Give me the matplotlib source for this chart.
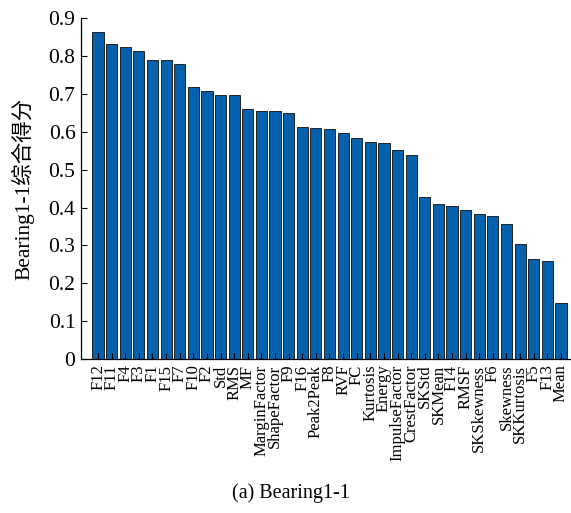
import matplotlib
matplotlib.use("Agg")
import matplotlib.pyplot as plt
import numpy as np

features = ["F12", "F11", "F4", "F3", "F1", "F15", "F7", "F10", "F2", "Std",
            "RMS", "MF", "MarginFactor", "ShapeFactor", "F9", "F16", "Peak2Peak",
            "F8", "RVF", "FC", "Kurtosis", "Energy", "ImpulseFactor", "CrestFactor",
            "SKStd", "SKMean", "F14", "RMSF", "SKSkewness", "F6", "Skewness",
            "SKKurtosis", "F5", "F13", "Mean"]
scores = [0.863, 0.833, 0.825, 0.814, 0.791, 0.791, 0.779, 0.718, 0.708, 0.698,
          0.698, 0.660, 0.656, 0.654, 0.651, 0.614, 0.611, 0.608, 0.597, 0.585,
          0.574, 0.571, 0.552, 0.540, 0.429, 0.409, 0.405, 0.394, 0.383, 0.378,
          0.356, 0.304, 0.265, 0.258, 0.147]
yticks = [0, 0.1, 0.2, 0.3, 0.4, 0.5, 0.6, 0.7, 0.8, 0.9]

plt.rcParams["font.family"] = ["Liberation Serif", "Noto Sans CJK SC"]

fig = plt.figure(figsize=(5.71, 5.13), dpi=100)
ax = fig.add_axes([0.1419, 0.3002, 0.8581, 0.6641])

x = np.arange(len(features))
ax.bar(x, scores, width=0.82, color="#0461AE", edgecolor="#222222", linewidth=0.7)

ax.set_xlim(-1.25, len(features) - 1 + 0.74)
ax.set_ylim(0, 0.9)
ax.set_yticks(yticks)
ax.set_yticklabels([f"{v:g}" for v in yticks], fontsize=15.5)
ax.set_xticks(x)
ax.set_xticklabels(features, rotation=90, fontsize=12)
ax.tick_params(axis="both", direction="in", length=4, width=0.8)
ax.tick_params(axis="x", pad=4)
ax.tick_params(axis="y", pad=4)

for side in ("top", "right"):
    ax.spines[side].set_visible(False)
for side in ("left", "bottom"):
    ax.spines[side].set_linewidth(0.9)

ax.set_ylabel("Bearing1-1综合得分", fontsize=15.5, labelpad=10)

fig.text(0.51, 0.039, "(a) Bearing1-1", ha="center", va="center", fontsize=14.5)

fig.savefig("out.png", dpi=100)
